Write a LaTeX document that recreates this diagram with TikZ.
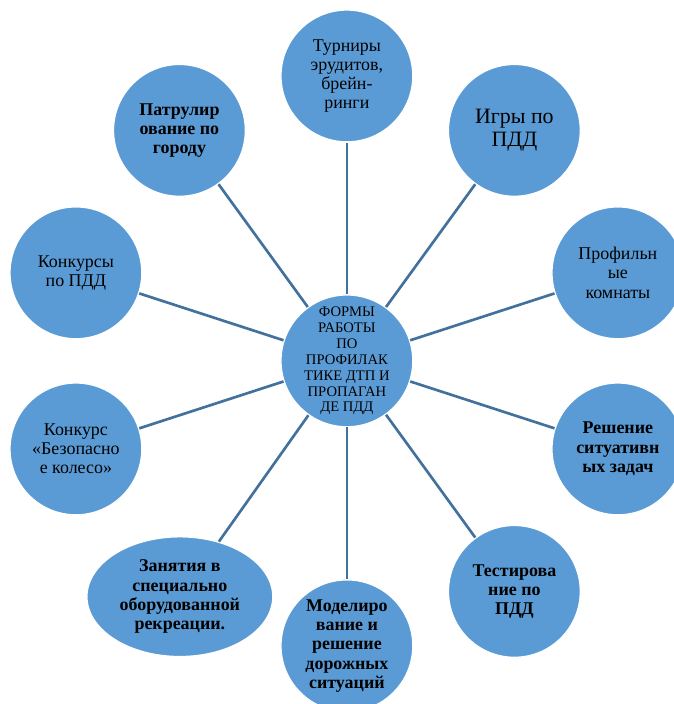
\documentclass[tikz,border=0pt]{standalone}
\usepackage{fontspec}
\setmainfont{Liberation Serif}
\usetikzlibrary{shapes.geometric}
\definecolor{bubble}{RGB}{91,155,213}
\definecolor{spokeblue}{RGB}{65,113,156}
\tikzset{
  hub/.style   = {circle, fill=bubble, draw=white, line width=1pt, text=black,
                  minimum size=3.49cm, inner sep=0pt, align=center,
                  font=\fontsize{13.5}{14.5}\selectfont},
  hubb/.style  = {hub, font=\fontsize{13.5}{14.5}\selectfont\bfseries},
  % centre: negative inner sep keeps the seven lines inside the same circle size
  core/.style  = {hub, inner sep=-6pt, font=\fontsize{11}{12}\selectfont},
  oval/.style  = {hubb, ellipse, minimum width=4.92cm, minimum height=3.17cm},
  spoke/.style = {draw=spokeblue, line width=2pt},
}

\begin{document}
\begin{tikzpicture}

    \useasboundingbox (-9.18,-9.08) rectangle (8.65,9.55);

    \node[core] (c) at (0,0) {ФОРМЫ\\РАБОТЫ\\ПО\\ПРОФИЛАК\\ТИКЕ ДТП И\\ПРОПАГАН\\ДЕ ПДД};

    \node[hub]  (turn)  at (90:7.54)   {Турниры\\эрудитов,\\брейн-\\ринги};
    \node[hub, font=\fontsize{16.5}{17.5}\selectfont]
                (igry)  at (54:7.54)   {Игры по\\ПДД};
    \node[hub]  (prof)  at (18:7.54)   {Профильн\\ые\\комнаты};
    \node[hubb] (resh)  at (-18:7.54)  {Решение\\ситуативн\\ых задач};
    \node[hubb] (test)  at (-54:7.54)  {Тестирова\\ние по\\ПДД};
    \node[hubb] (model) at (-90:7.54)  {Моделиро\\вание и\\решение\\дорожных\\ситуаций};
    \node[oval] (zan)   at (-4.42,-6.24) {Занятия в\\специально\\оборудованной\\рекреации.};
    \node[hub]  (bez)   at (-162:7.54) {Конкурс\\«Безопасно\\е колесо»};
    \node[hub]  (konk)  at (162:7.54)  {Конкурсы\\по ПДД};
    \node[hubb] (patr)  at (126:7.54)  {Патрулир\\ование по\\городу};

    \draw[spoke] (c) -- (turn);
    \draw[spoke] (c) -- (igry);
    \draw[spoke] (c) -- (prof);
    \draw[spoke] (c) -- (resh);
    \draw[spoke] (c) -- (test);
    \draw[spoke] (c) -- (model);
    \draw[spoke] (c) -- (zan);
    \draw[spoke] (c) -- (bez);
    \draw[spoke] (c) -- (konk);
    \draw[spoke] (c) -- (patr);
  \end{tikzpicture}
\end{document}
